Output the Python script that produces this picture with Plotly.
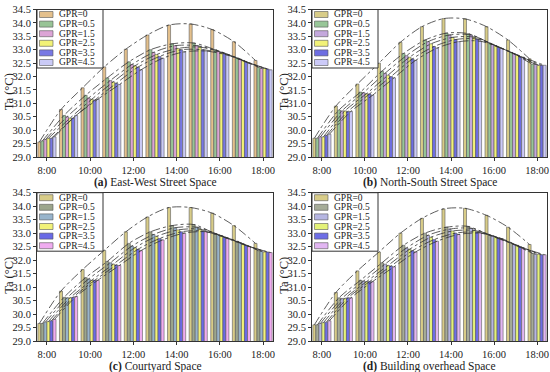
import plotly.graph_objects as go

hours = [8, 9, 10, 11, 12, 13, 14, 15, 16, 17, 18]
tick_vals = [8, 10, 12, 14, 16, 18]
tick_text = ["8:00", "10:00", "12:00", "14:00", "16:00", "18:00"]
series_names = ["GPR=0", "GPR=0.5", "GPR=1.5", "GPR=2.5", "GPR=3.5", "GPR=4.5"]

# (a) East-West Street Space
a_gpr0 = [29.56, 30.77, 31.58, 32.36, 33.02, 33.55, 33.92, 33.96, 33.75, 33.3, 32.6]
a_gpr05 = [29.6, 30.55, 31.3, 31.95, 32.55, 33.0, 33.22, 33.25, 33.0, 32.7, 32.35]
a_gpr15 = [29.65, 30.5, 31.2, 31.85, 32.45, 32.9, 33.15, 33.15, 32.95, 32.65, 32.3]
a_gpr25 = [29.7, 30.45, 31.15, 31.8, 32.4, 32.82, 33.05, 33.1, 32.9, 32.6, 32.3]
a_gpr35 = [29.7, 30.45, 31.12, 31.75, 32.35, 32.75, 33.0, 33.0, 32.85, 32.55, 32.28]
a_gpr45 = [29.75, 30.55, 31.15, 31.7, 32.25, 32.68, 32.92, 32.95, 32.8, 32.5, 32.25]

# (b) North-South Street Space
b_gpr0 = [29.7, 30.9, 31.72, 32.5, 33.28, 33.86, 34.16, 34.15, 33.86, 33.36, 32.66]
b_gpr05 = [29.7, 30.75, 31.42, 32.2, 32.86, 33.36, 33.62, 33.6, 33.25, 32.9, 32.45]
b_gpr15 = [29.75, 30.72, 31.4, 32.12, 32.78, 33.3, 33.55, 33.55, 33.2, 32.85, 32.45]
b_gpr25 = [29.75, 30.72, 31.36, 32.05, 32.72, 33.22, 33.46, 33.47, 33.15, 32.8, 32.42]
b_gpr35 = [29.8, 30.7, 31.35, 32.0, 32.66, 33.12, 33.38, 33.4, 33.1, 32.75, 32.42]
b_gpr45 = [29.85, 30.7, 31.3, 31.95, 32.6, 33.06, 33.3, 33.32, 33.05, 32.72, 32.42]

# (c) Courtyard Space
c_gpr0 = [29.65, 30.85, 31.65, 32.36, 33.05, 33.6, 33.95, 33.95, 33.74, 33.28, 32.62]
c_gpr05 = [29.65, 30.62, 31.35, 31.95, 32.62, 33.05, 33.28, 33.32, 32.98, 32.7, 32.35]
c_gpr15 = [29.7, 30.6, 31.3, 31.9, 32.52, 32.95, 33.2, 33.22, 32.95, 32.65, 32.32]
c_gpr25 = [29.72, 30.6, 31.25, 31.85, 32.46, 32.88, 33.12, 33.15, 32.9, 32.6, 32.3]
c_gpr35 = [29.75, 30.62, 31.25, 31.82, 32.4, 32.8, 33.05, 33.08, 32.85, 32.55, 32.3]
c_gpr45 = [29.8, 30.65, 31.25, 31.8, 32.35, 32.75, 33.0, 33.05, 32.8, 32.5, 32.28]

# (d) Building overhead Space
d_gpr0 = [29.6, 30.8, 31.6, 32.3, 33.0, 33.55, 33.9, 33.92, 33.66, 33.22, 32.58]
d_gpr05 = [29.6, 30.6, 31.25, 31.9, 32.55, 33.0, 33.22, 33.25, 32.92, 32.62, 32.25]
d_gpr15 = [29.65, 30.58, 31.22, 31.85, 32.45, 32.92, 33.15, 33.18, 32.9, 32.58, 32.22]
d_gpr25 = [29.68, 30.58, 31.2, 31.8, 32.4, 32.85, 33.08, 33.1, 32.86, 32.55, 32.22]
d_gpr35 = [29.7, 30.6, 31.2, 31.78, 32.35, 32.76, 33.0, 33.04, 32.82, 32.5, 32.2]
d_gpr45 = [29.75, 30.6, 31.2, 31.75, 32.3, 32.7, 32.95, 33.0, 32.8, 32.45, 32.2]

panels = [
    ("a", "East-West Street Space", [a_gpr0, a_gpr05, a_gpr15, a_gpr25, a_gpr35, a_gpr45],
     ["#e4c08c", "#98c496", "#dca4d6", "#f2f276", "#7878e4", "#cacaf6"]),
    ("b", "North-South Street Space", [b_gpr0, b_gpr05, b_gpr15, b_gpr25, b_gpr35, b_gpr45],
     ["#d8cc88", "#98c698", "#c4a8dc", "#f2f278", "#6e6ee2", "#cccaf8"]),
    ("c", "Courtyard Space", [c_gpr0, c_gpr05, c_gpr15, c_gpr25, c_gpr35, c_gpr45],
     ["#d8cc88", "#9ca68c", "#98b4cc", "#f2f278", "#6a6ae6", "#f0acf0"]),
    ("d", "Building overhead Space", [d_gpr0, d_gpr05, d_gpr15, d_gpr25, d_gpr35, d_gpr45],
     ["#d8cc88", "#a6ac98", "#b6b6e2", "#e4f278", "#6e6ee6", "#e2b6f2"]),
]

PAD = 0  # body margin removed below
W, H = 550 - PAD, 372 - PAD
# plot-area pixel boxes in window coordinates (left, right, top, bottom)
boxes = [(37, 273, 9.5, 157), (312, 547, 9.5, 157), (37, 273, 192.7, 341), (312, 547, 192.7, 341)]

n = len(series_names)
group_w = 0.84
bw = group_w / n
FONT = "Liberation Serif, Times New Roman, serif"


def px(xv):
    return (xv - PAD) / W


def py(yv):
    return 1 - (yv - PAD) / H


fig = go.Figure()
layout = dict(width=W, height=H, margin=dict(l=0, r=0, t=0, b=0),
              plot_bgcolor="white", paper_bgcolor="white",
              font=dict(family=FONT, color="#222"),
              barmode="overlay", showlegend=False)
annotations = []
shapes = []
for p, (letter, title, data, colors) in enumerate(panels):
    idx = "" if p == 0 else str(p + 1)
    xa, ya = "x" + idx, "y" + idx
    for i in range(n):
        off = -group_w / 2 + i * bw
        fig.add_trace(go.Bar(
            x=hours, y=data[i], name=series_names[i], width=bw, offset=off,
            marker=dict(color=colors[i], line=dict(color="#5a5a5a", width=0.6)),
            xaxis=xa, yaxis=ya))
    for i in range(n):
        off = -group_w / 2 + i * bw + bw / 2
        fig.add_trace(go.Scatter(
            x=[h + off for h in hours], y=data[i], mode="lines",
            line=dict(color="#333", width=0.8, dash="dashdot", shape="spline", smoothing=0.8),
            xaxis=xa, yaxis=ya, hoverinfo="skip"))
    l, r, t, b = boxes[p]
    xd = [px(l), px(r)]
    yd = [py(b), py(t)]
    layout["xaxis" + idx] = dict(domain=xd, anchor=ya, range=[7.54, 18.46], automargin=False,
                                 tickvals=tick_vals, ticktext=tick_text,
                                 ticks="outside", ticklen=3, tickcolor="#333",
                                 showline=True, linecolor="#333", linewidth=1, mirror=True,
                                 showgrid=False, zeroline=False,
                                 tickfont=dict(size=10.5, color="#222"))
    layout["yaxis" + idx] = dict(domain=yd, anchor=xa, range=[29.0, 34.5], automargin=False,
                                 tickvals=[29.0 + 0.5 * k for k in range(12)],
                                 tickformat=".1f",
                                 ticks="outside", ticklen=3, tickcolor="#333",
                                 showline=True, linecolor="#333", linewidth=1, mirror=True,
                                 showgrid=False, zeroline=False,
                                 tickfont=dict(size=10.5, color="#222"))
    # y-axis title
    annotations.append(dict(
        x=px(l - 28), y=py((t + b) / 2 + 9), xref="paper", yref="paper",
        text="Ta (°C)", textangle=-90, showarrow=False,
        font=dict(size=12.5, color="#222"), xanchor="center", yanchor="middle"))
    # panel caption
    annotations.append(dict(
        x=(xd[0] + xd[1]) / 2, y=py(b + 25.5), xref="paper", yref="paper",
        text="<b>(" + letter + ")</b> " + title, showarrow=False,
        font=dict(size=11.5, color="#222"), xanchor="center", yanchor="middle"))
    # compact legend box
    lx0, lx1, ly0, ly1 = l, l + 66, t, t + 58.5
    shapes.append(dict(type="rect", xref="paper", yref="paper",
                       x0=px(lx0), x1=px(lx1), y0=py(ly1), y1=py(ly0),
                       line=dict(color="#333", width=1), fillcolor="white", layer="above"))
    for i in range(n):
        cy = t + 5 + i * 9.6
        shapes.append(dict(type="rect", xref="paper", yref="paper",
                           x0=px(l + 2.5), x1=px(l + 16),
                           y0=py(cy + 3), y1=py(cy - 3),
                           line=dict(color="#555", width=0.6), fillcolor=colors[i], layer="above"))
        annotations.append(dict(
            x=px(l + 19.5), y=py(cy), xref="paper", yref="paper",
            text=series_names[i], showarrow=False,
            font=dict(size=9.5, color="#222"), xanchor="left", yanchor="middle"))
layout["annotations"] = annotations
layout["shapes"] = shapes
fig.update_layout(**layout)
fig.write_html("out.html", config={"displayModeBar": False},
               post_script="document.body.style.margin='0px';")
